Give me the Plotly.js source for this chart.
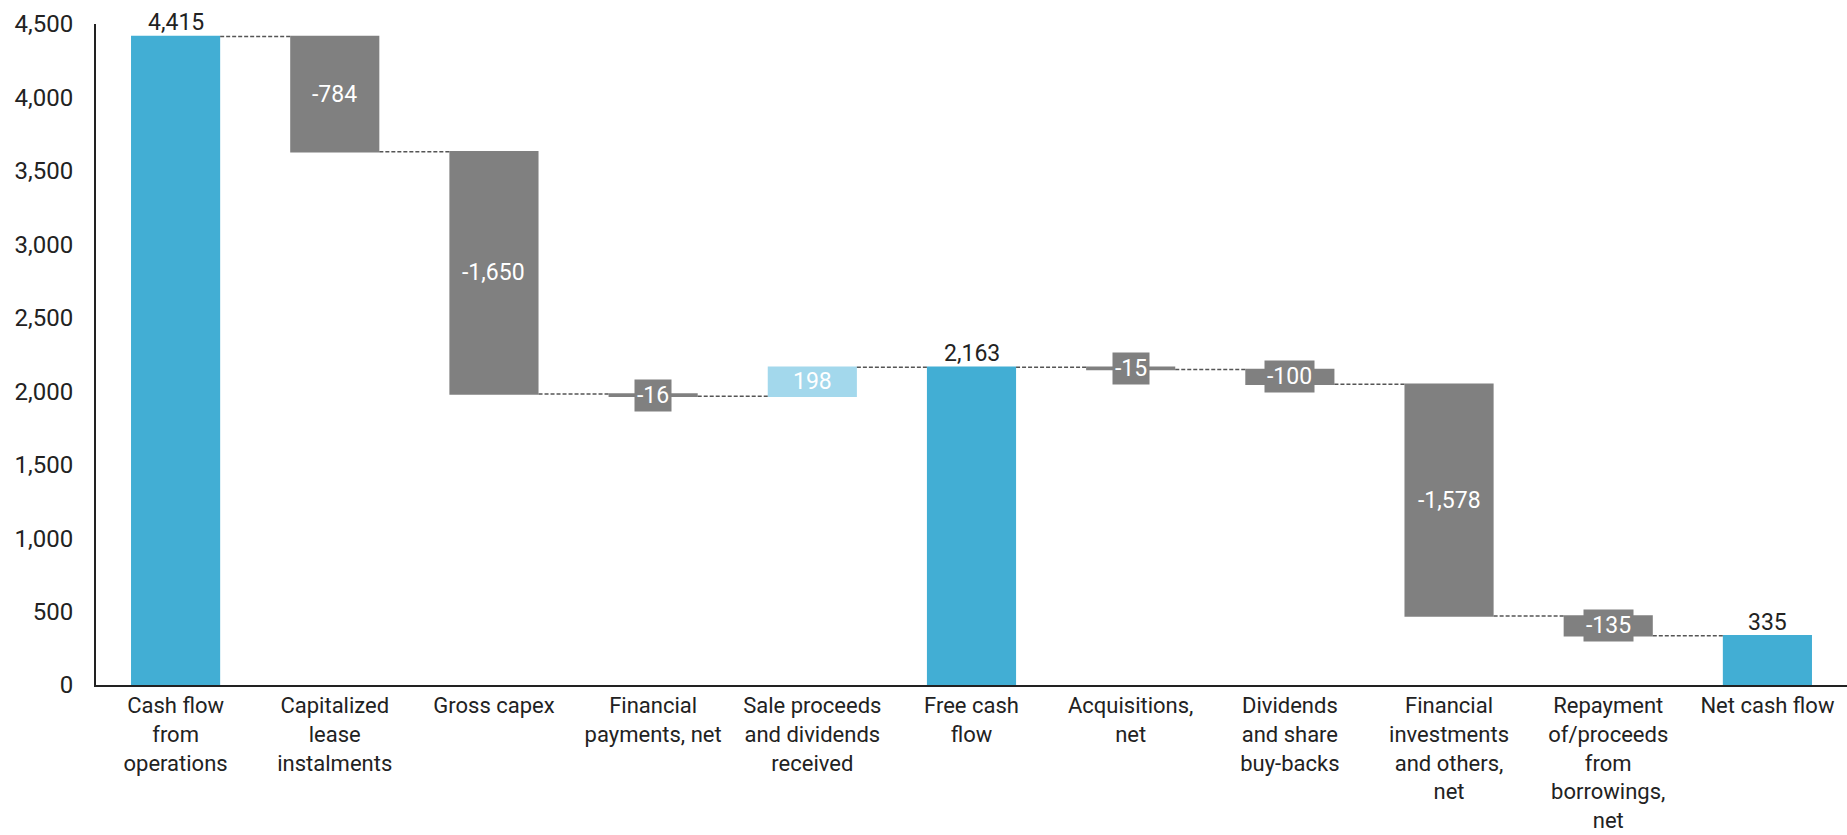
<!DOCTYPE html>
<html>
<head>
<meta charset="utf-8">
<script src="https://cdn.plot.ly/plotly-3.0.1.min.js"></script>
<style>html,body{margin:0;padding:0;background:#fff;}#chart{width:1847px;height:835px;}</style>
</head>
<body>
<div id="chart"></div>
<script>
const categories = [
  "Cash flow<br>from<br>operations",
  "Capitalized<br>lease<br>instalments",
  "Gross capex",
  "Financial<br>payments, net",
  "Sale proceeds<br>and dividends<br>received",
  "Free cash<br>flow",
  "Acquisitions,<br>net",
  "Dividends<br>and share<br>buy-backs",
  "Financial<br>investments<br>and others,<br>net",
  "Repayment<br>of/proceeds<br>from<br>borrowings,<br>net",
  "Net cash flow"
];
const measures = ["absolute","relative","relative","relative","relative","total","relative","relative","relative","relative","total"];
const values = [4415, -784, -1650, -16, 198, 0, -15, -100, -1578, -135, 0];

const BLUE = "#42AED4", GRAY = "#808080", LIGHT = "#A3D8EC";
const FONT = "Roboto, 'Open Sans', sans-serif";

function fmt(v){ return v.toLocaleString("en-US"); }

const annotations = [];
let run = 0;
for (let i = 0; i < categories.length; i++) {
  const m = measures[i];
  if (m === "absolute" || m === "total") {
    if (m === "absolute") run = values[i];
    annotations.push({x: categories[i], y: run, text: fmt(run), showarrow: false, yanchor: "bottom", yshift: -2,
      font: {family: FONT, size: 23, color: "#222"}});
  } else {
    const start = run, end = run + values[i];
    run = end;
    const mid = (start + end) / 2;
    const a = {x: categories[i], y: mid, text: fmt(values[i]), showarrow: false, yanchor: "middle",
      font: {family: FONT, size: 23, color: "#fff"}};
    if (values[i] < 0) { a.bgcolor = GRAY; a.borderpad = 2; }
    annotations.push(a);
  }
}

const trace = {
  type: "waterfall",
  x: categories,
  y: values,
  measure: measures,
  textposition: "none",
  hoverinfo: "skip",
  increasing: {marker: {color: LIGHT}},
  decreasing: {marker: {color: GRAY}},
  totals: {marker: {color: BLUE}},
  connector: {mode: "between", line: {color: "#555", width: 1.5, dash: "4px,2px"}}
};

const layout = {
  width: 1847, height: 835,
  margin: {l: 96, r: 0, t: 24, b: 150},
  paper_bgcolor: "#fff", plot_bgcolor: "#fff",
  showlegend: false,
  waterfallgap: 0.44,
  font: {family: FONT, size: 23, color: "#222"},
  xaxis: {
    showline: true, linecolor: "#222", linewidth: 2, showgrid: false, zeroline: false,
    ticks: "", tickfont: {family: FONT, size: 22, color: "#222"}, tickangle: 0, automargin: false
  },
  yaxis: {
    range: [0, 4500], dtick: 500, tickformat: ",d",
    showline: true, linecolor: "#222", linewidth: 2, showgrid: false, zeroline: false,
    ticks: "", ticklabelstandoff: 16, tickfont: {family: FONT, size: 24, color: "#222"}, automargin: false
  },
  annotations: annotations
};

Plotly.newPlot("chart", [trace], layout, {staticPlot: true, displayModeBar: false});
</script>
</body>
</html>
